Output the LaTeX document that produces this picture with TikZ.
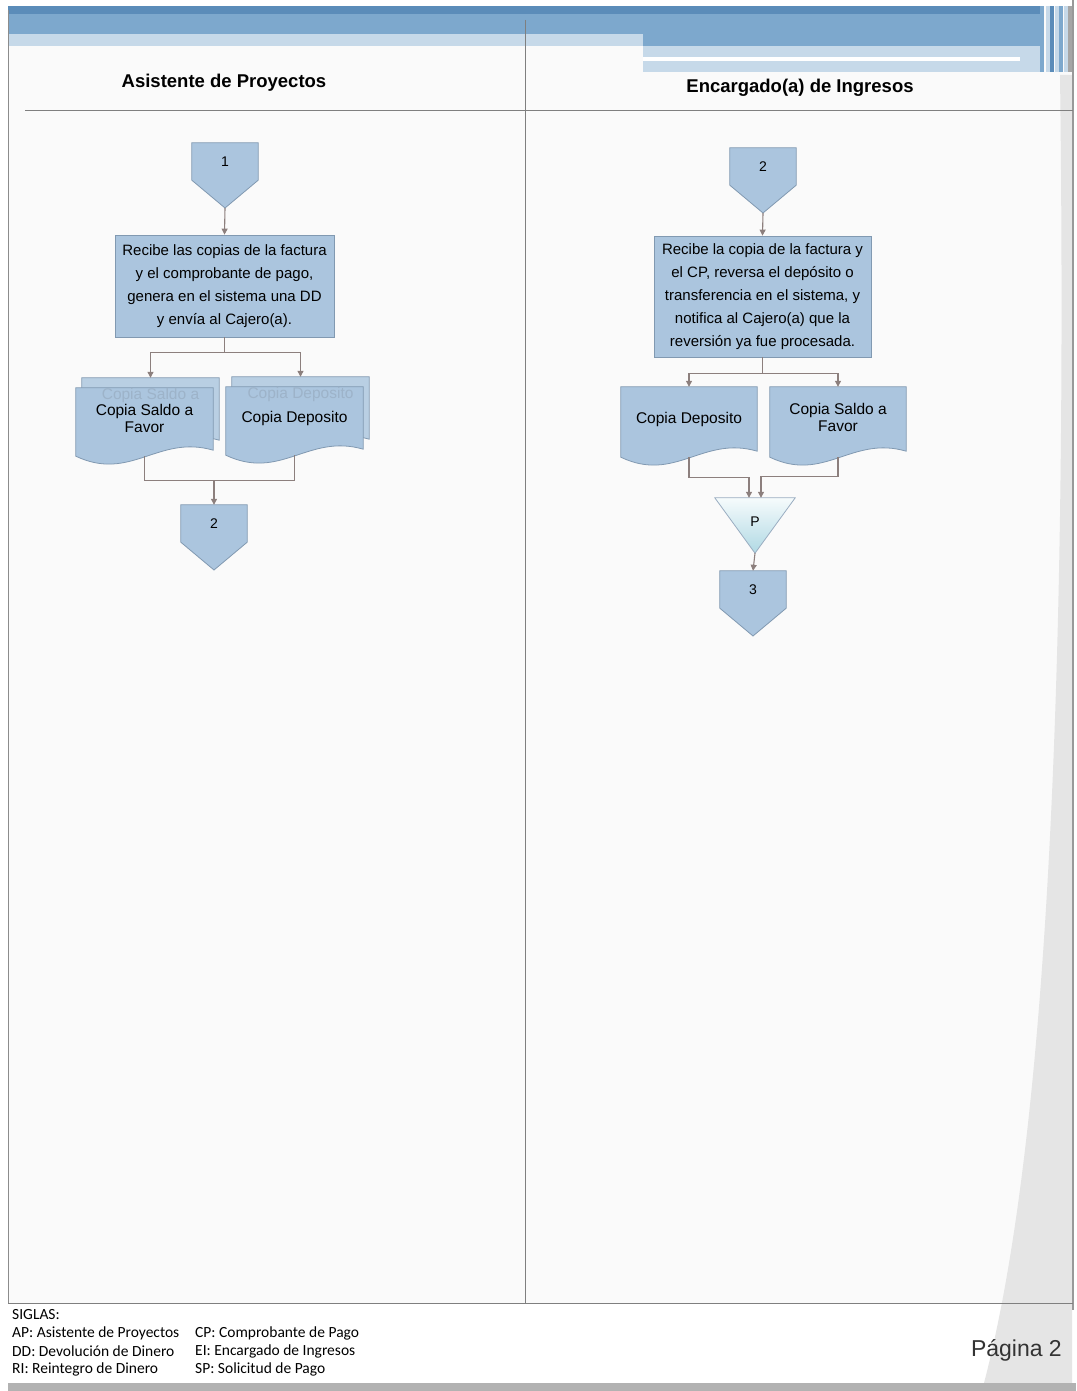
\documentclass[tikz,border=0pt]{standalone}
\usepackage{fontspec}
\setmainfont{Liberation Sans}
\newfontfamily\siglasfont{Carlito}
\usepackage{tikz}
\usepackage{xcolor}
\usetikzlibrary{arrows.meta,positioning,calc}

\definecolor{boxblue}{HTML}{ABC5DE}
\definecolor{boxline}{HTML}{8199B1}
\definecolor{backblue}{HTML}{B9CFE3}
\definecolor{fadetext}{HTML}{9DB3C9}
\definecolor{arrgray}{HTML}{8C7F7D}
\definecolor{hdrdark}{HTML}{5B8CB9}
\definecolor{hdrmid}{HTML}{7DA8CD}
\definecolor{hdrlight}{HTML}{C6D9E9}
\definecolor{lanegray}{HTML}{7F7F7F}
\definecolor{wedgegray}{HTML}{E5E5E5}
\definecolor{mergetop}{HTML}{F6FBFC}
\definecolor{mergebot}{HTML}{B0D9E4}

\pgfdeclarelayer{page}
\pgfdeclarelayer{background}
\pgfsetlayers{page,background,main}

% sheet with a wavy lower edge, drawn round a named node
\newcommand{\docsheet}[2][boxblue]{%
  \begin{pgfonlayer}{background}
  \path[fill=#1, draw=boxline, line width=0.8pt]
    (#2.north west) -- (#2.north east) -- ($(#2.south east)+(0,-6)$)
    .. controls ($(#2.south west)!0.6!(#2.south east)+(0,-22)$)
    and ($(#2.south west)!0.4!(#2.south east)+(0,26)$) .. (#2.south west) -- cycle;
  \end{pgfonlayer}}

% off-page connector: box with a point below it
\newcommand{\offpage}[4]{%
  \node[conn] (#1) at (#2,#3+18.5) {#4};
  \coordinate (#1tip) at (#2,#3+65);
  \begin{pgfonlayer}{background}
  \path[fill=boxblue, draw=boxline, line width=0.8pt]
    (#1.north west) -- (#1.north east) -- (#1.south east) -- (#1tip)
    -- (#1.south west) -- cycle;
  \end{pgfonlayer}}

\begin{document}
\begin{tikzpicture}[
    x=1pt, y=-1pt,
    conn/.style={minimum width=66pt, minimum height=37pt, inner sep=0pt,
                 font=\fontsize{14}{16}\selectfont},
    proc/.style={draw=boxline, fill=boxblue, line width=0.8pt, align=center,
                 inner sep=0pt, font=\fontsize{15}{23}\selectfont},
    sheet/.style={minimum width=137pt, minimum height=68pt, inner sep=0pt,
                  align=center, font=\fontsize{15.5}{17}\selectfont},
    backsheet/.style={sheet, text=fadetext},
    lane/.style={font=\bfseries\fontsize{18.5}{22}\selectfont},
    arr/.style={-{Triangle[length=6pt,width=6pt]}, draw=arrgray, line width=1.1pt},
    link/.style={draw=arrgray, line width=1.1pt},
    sigla/.style={anchor=west, inner sep=0pt, font=\siglasfont\fontsize{15.5}{17}\selectfont}
]
\useasboundingbox (0,0) rectangle (1076,1391);

% page decoration
\begin{pgfonlayer}{page}
\fill[white] (0,0) rectangle (1076,1391);
\fill[black!2] (8,6) rectangle (1072,1303);
\fill[wedgegray] (1072,75) -- (1072,1383) -- (984,1383)
    .. controls (1045,1150) and (1068,700) .. (1060,75) -- cycle;
\fill[hdrdark] (8,6) rectangle (1040,14);
\fill[hdrmid] (8,14) rectangle (1040,34);
\fill[hdrlight] (8,34) rectangle (643,46);
\fill[hdrmid] (643,34) rectangle (1040,46);
\fill[hdrlight] (643,46) rectangle (1040,72);
\fill[white] (643,57) rectangle (1020,61);
\foreach \sx/\sc in {1040/hdrmid, 1046/hdrlight, 1050/hdrdark, 1055/hdrlight,
                     1059/hdrmid, 1064/hdrlight, 1068/black!35}
    \fill[\sc] (\sx,6) rectangle ++(4,66);
\draw[black!45, line width=1pt] (8,10) -- (8,1303);
\draw[black!40, line width=1.2pt] (1073,0) -- (1073,1310);
\draw[lanegray, line width=0.8pt] (525,20) -- (525,1303);
\draw[lanegray, line width=0.8pt] (25,110) -- (1073,110);
\draw[lanegray, line width=0.8pt] (8,1303) -- (1073,1303);
\fill[black!30] (8,1383) rectangle (1076,1391);
\end{pgfonlayer}

% lanes
\node[lane] (asistente) at (224,83) {Asistente de Proyectos};
\node[lane] (encargado) at (800,88) {Encargado(a) de Ingresos};

% Asistente de Proyectos
\offpage{conecta}{225}{143}{1}
\node[proc, minimum width=219pt, minimum height=102pt] (recibecopias) at (224.5,286)
    {Recibe las copias de la factura\\y el comprobante de pago,\\genera en el sistema una DD\\y envía al Cajero(a).};
\draw[arr] (conectatip) -- (recibecopias.north);

\node[backsheet] (saldoatras) at (150.5,412) {Copia Saldo a\\[20pt]\phantom{x}};
\docsheet[backblue]{saldoatras}
\node[sheet] (copiasaldo) at (144.5,422) {Copia Saldo a\\Favor\\[-10pt]\phantom{x}};
\docsheet{copiasaldo}
\node[backsheet] (depositoatras) at (300.5,411) {Copia Deposito\\[20pt]\phantom{x}};
\docsheet[backblue]{depositoatras}
\node[sheet] (copiadeposito) at (294.5,421) {Copia Deposito\\[-8pt]\phantom{x}};
\docsheet{copiadeposito}

\draw[arr] (recibecopias.south) -- ++(0,15) -| (saldoatras.north);
\draw[arr] (recibecopias.south) -- ++(0,15) -| (depositoatras.north);

\offpage{conectb}{214}{505}{2}
\draw[link] (copiasaldo.south) |- ($(conectb.north)+(0,-24)$);
\draw[link] (copiadeposito.south) |- ($(conectb.north)+(0,-24)$);
\draw[arr] ($(conectb.north)+(0,-24)$) -- (conectb.north);

% Encargado(a) de Ingresos
\offpage{conectc}{763}{148}{2}
\node[proc, minimum width=217pt, minimum height=121pt] (reversa) at (762.5,296.5)
    {Recibe la copia de la factura y\\el CP, reversa el depósito o\\transferencia en el sistema, y\\notifica al Cajero(a) que la\\reversión ya fue procesada.};
\draw[arr] (conectctip) -- (reversa.north);

\node[sheet, minimum width=136pt, minimum height=70pt] (depositoing) at (689,422)
    {Copia Deposito\\[-8pt]\phantom{x}};
\docsheet{depositoing}
\node[sheet, minimum width=136pt, minimum height=70pt] (saldoing) at (838,422)
    {Copia Saldo a\\Favor\\[-8pt]\phantom{x}};
\docsheet{saldoing}

\draw[arr] (reversa.south) -- ++(0,16) -| (depositoing.north);
\draw[arr] (reversa.south) -- ++(0,16) -| (saldoing.north);

% merge P
\node[minimum width=80pt, minimum height=55pt, inner sep=0pt,
      font=\fontsize{14}{16}\selectfont] (juntar) at (755,525.5) {\raisebox{8pt}{P}};
\begin{pgfonlayer}{background}
\path[top color=mergetop, bottom color=mergebot, draw=boxline!80, line width=0.8pt]
    (juntar.north west) -- (juntar.north east) -- (juntar.south) -- cycle;
\end{pgfonlayer}
\draw[arr] (depositoing.south) |- ($(juntar.north)+(-6,-20)$) -- ($(juntar.north)+(-6,0)$);
\draw[arr] (saldoing.south) |- ($(juntar.north)+(6,-21)$) -- ($(juntar.north)+(6,0)$);

\offpage{conectd}{753}{571}{3}
\draw[arr] (juntar.south) -- (conectd.north);

% siglas
\node[sigla] (siglas) at (12,1315) {SIGLAS:};
\node[sigla] (ap) at (12,1333) {AP: Asistente de Proyectos};
\node[sigla] (dd) at (12,1351) {DD: Devolución de Dinero};
\node[sigla] (ri) at (12,1369) {RI: Reintegro de Dinero};
\node[sigla] (cp) at (195,1333) {CP: Comprobante de Pago};
\node[sigla] (ei) at (195,1351) {EI: Encargado de Ingresos};
\node[sigla] (sp) at (195,1369) {SP: Solicitud de Pago};
\node[anchor=east, inner sep=0pt, text=black!80, font=\fontsize{23}{26}\selectfont]
    (pagina) at (1062,1350) {Página 2};

\end{tikzpicture}
\end{document}
